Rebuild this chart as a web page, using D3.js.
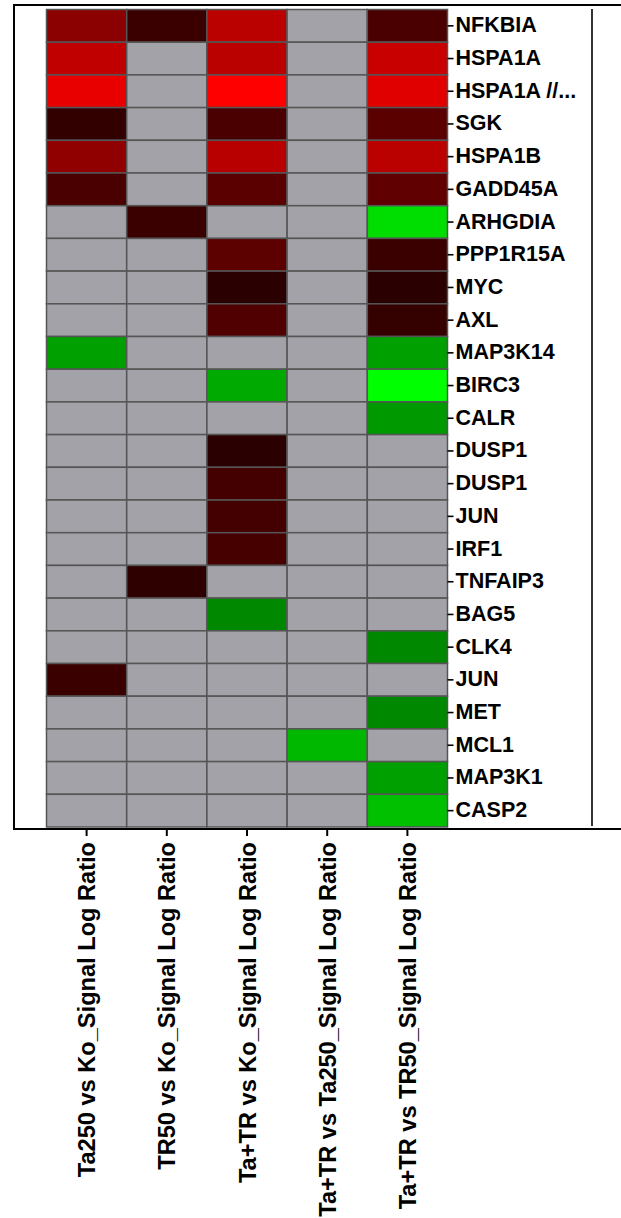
<!DOCTYPE html>
<html>
<head>
<meta charset="utf-8">
<script src="https://cdn.jsdelivr.net/npm/d3@7"></script>
<style>
  body { margin: 0; background: #fff; }
  svg { display: block; }
  text { font-family: "Liberation Sans", Arial, sans-serif; font-weight: bold; }
</style>
</head>
<body>
<svg id="chart"></svg>
<script>
// ---- data ----
const genes = ["NFKBIA", "HSPA1A", "HSPA1A //...", "SGK", "HSPA1B", "GADD45A",
  "ARHGDIA", "PPP1R15A", "MYC", "AXL", "MAP3K14", "BIRC3", "CALR", "DUSP1",
  "DUSP1", "JUN", "IRF1", "TNFAIP3", "BAG5", "CLK4", "JUN", "MET", "MCL1",
  "MAP3K1", "CASP2"];

const comparisons = [
  "Ta250 vs Ko_Signal Log Ratio",
  "TR50 vs Ko_Signal Log Ratio",
  "Ta+TR vs Ko_Signal Log Ratio",
  "Ta+TR vs Ta250_Signal Log Ratio",
  "Ta+TR vs TR50_Signal Log Ratio"
];

// signal log ratio per gene (row) and comparison (column); null = not significant
const logRatios = [
  [1.64, 0.68, 2.20, null, 0.87],
  [2.26, null, 2.20, null, 2.35],
  [2.73, null, 3.00, null, 2.64],
  [0.60, null, 0.87, null, 1.06],
  [1.69, null, 2.16, null, 2.20],
  [0.87, null, 1.06, null, 1.13],
  [null, 0.68, null, null, -2.60],
  [null, null, 1.08, null, 0.68],
  [null, null, 0.49, null, 0.49],
  [null, null, 0.94, null, 0.62],
  [-1.88, null, null, null, -1.88],
  [null, null, -2.00, null, -3.00],
  [null, null, null, null, -1.80],
  [null, null, 0.49, null, null],
  [null, null, 0.80, null, null],
  [null, null, 0.80, null, null],
  [null, null, 0.82, null, null],
  [null, 0.54, null, null, null],
  [null, null, -1.60, null, null],
  [null, null, null, null, -1.60],
  [0.68, null, null, null, null],
  [null, null, null, null, -1.60],
  [null, null, null, -2.16, null],
  [null, null, null, null, -1.88],
  [null, null, null, null, -2.26]
];

// ---- layout ----
const W = 621, H = 1218;
const svg = d3.select("#chart").attr("width", W).attr("height", H);

const x = d3.scaleBand().domain(d3.range(comparisons.length)).range([46.5, 447.5]);
const y = d3.scaleBand().domain(d3.range(genes.length)).range([9.5, 827]);

// black -> red for up, black -> green for down
const upColor = d3.scaleLinear().domain([0, 3]).range(["#000000", "#ff0000"]).clamp(true);
const downColor = d3.scaleLinear().domain([0, -3]).range(["#000000", "#00ff00"]).clamp(true);
const cellColor = v => v == null ? "#a3a2a8" : (v >= 0 ? upColor(v) : downColor(v));

// frame
svg.append("path")
  .attr("d", `M${W + 10},5 H14 V829 H${W + 10}`)
  .attr("fill", "none")
  .attr("stroke", "#000")
  .attr("stroke-width", 2);

svg.append("line")
  .attr("x1", 592).attr("x2", 592)
  .attr("y1", 9).attr("y2", 826)
  .attr("stroke", "#000")
  .attr("stroke-width", 1.6);

// cells
const cells = [];
logRatios.forEach((row, r) => row.forEach((v, c) => cells.push({ r, c, v })));

svg.append("g")
  .selectAll("rect")
  .data(cells)
  .join("rect")
  .attr("x", d => x(d.c))
  .attr("y", d => y(d.r))
  .attr("width", x.bandwidth())
  .attr("height", y.bandwidth())
  .attr("fill", d => cellColor(d.v))
  .attr("stroke", "#555")
  .attr("stroke-width", 1.5);

// gene labels
const rowAxis = svg.append("g")
  .attr("transform", "translate(447.5,0)")
  .call(d3.axisRight(y).tickSize(6).tickPadding(2).tickFormat(i => genes[i]));
rowAxis.select(".domain").remove();
rowAxis.selectAll(".tick line").attr("stroke", "#000").attr("stroke-width", 1.6);
rowAxis.selectAll(".tick text")
  .attr("fill", "#000")
  .style("font-size", "21.5px")
  .attr("dy", "0.3em");

// comparison labels
const colAxis = svg.append("g")
  .attr("transform", "translate(0,829)")
  .call(d3.axisBottom(x).tickSize(7).tickFormat(i => comparisons[i]));
colAxis.select(".domain").remove();
colAxis.selectAll(".tick line").attr("stroke", "#000").attr("stroke-width", 2);
colAxis.selectAll(".tick text")
  .attr("fill", "#000")
  .style("font-size", "23.6px")
  .attr("text-anchor", "end")
  .attr("transform", "translate(0,13) rotate(-90)")
  .attr("x", 0)
  .attr("y", 0)
  .attr("dy", "0.36em");
</script>
</body>
</html>
